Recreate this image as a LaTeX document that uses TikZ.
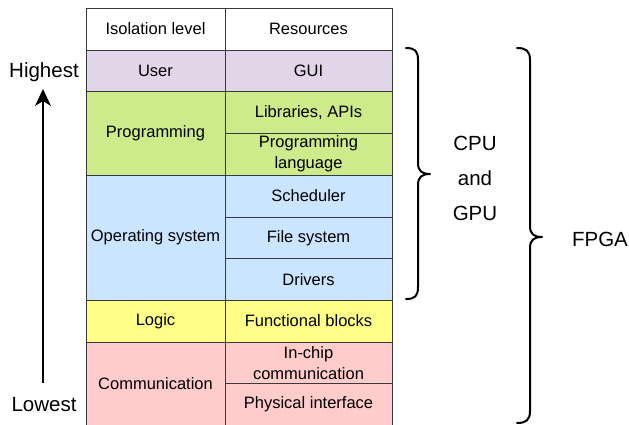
\documentclass[tikz,border=0pt]{standalone}
\usepackage{fontspec}
\setmainfont{Liberation Sans}
\usetikzlibrary{arrows.meta}
\definecolor{lnc}{HTML}{36393D}
\definecolor{cpurple}{HTML}{E1D5E7}
\definecolor{cgreen}{HTML}{CDEB8B}
\definecolor{cblue}{HTML}{CCE5FF}
\definecolor{cyellow}{HTML}{FFFF88}
\definecolor{cred}{HTML}{FFCCCC}
\begin{document}
\begin{tikzpicture}[x=1pt,y=-1pt,
  cell/.style={draw=lnc,line width=1pt,rectangle,inner sep=0pt,outer sep=0pt,align=center,
    font=\fontsize{16.5}{21}\selectfont},
  lcell/.style={cell,minimum width=139pt},
  rcell/.style={cell,minimum width=167pt},
  big/.style={font=\fontsize{20.5}{26}\selectfont,inner sep=0pt},
  brace/.style={draw=black,line width=2pt,line cap=round,line join=round}]
\useasboundingbox (0,0) rectangle (629,424);
% header
\node[lcell,fill=white,minimum height=42pt] (h1) at (155.5,29) {Isolation level};
\node[rcell,fill=white,minimum height=42pt] (h2) at (308.5,29) {Resources};
% user
\node[lcell,fill=cpurple,minimum height=41.5pt] (u1) at (155.5,70.75) {User};
\node[rcell,fill=cpurple,minimum height=41.5pt] (u2) at (308.5,70.75) {GUI};
% programming
\node[lcell,fill=cgreen,minimum height=83.5pt] (p1) at (155.5,133.25) {Programming};
\node[rcell,fill=cgreen,minimum height=41.5pt] (p2) at (308.5,112.25) {Libraries, APIs};
\node[rcell,fill=cgreen,minimum height=42pt] (p3) at (308.5,154) {Programming\\language};
% OS
\node[lcell,fill=cblue,minimum height=125pt] (o1) at (155.5,237.5) {Operating system};
\node[rcell,fill=cblue,minimum height=42pt] (o2) at (308.5,196) {Scheduler};
\node[rcell,fill=cblue,minimum height=41.5pt] (o3) at (308.5,237.75) {File system};
\node[rcell,fill=cblue,minimum height=41.5pt] (o4) at (308.5,279.25) {Drivers};
% logic
\node[lcell,fill=cyellow,minimum height=42pt] (l1) at (155.5,321) {Logic};
\node[rcell,fill=cyellow,minimum height=42pt] (l2) at (308.5,321) {Functional blocks};
% communication
\node[lcell,fill=cred,minimum height=83pt] (c1) at (155.5,383.5) {Communication};
\node[rcell,fill=cred,minimum height=41.5pt] (c2) at (308.5,362.75) {In-chip\\communication};
\node[rcell,fill=cred,minimum height=41.5pt] (c3) at (308.5,404.25) {Physical interface};
% left arrow and labels
\node[big] (hi) at (44,72) {Highest};
\node[big] (lo) at (44,405) {Lowest};
\coordinate (aS) at (43,383);
\coordinate (aE) at (43,89);
\draw[line width=2pt,-{Stealth[length=17pt,width=16pt,inset=5pt]}] (aS) -- (aE);
% brace 1
\draw[brace] (406,48) .. controls (415,48) and (418,51) .. (418,60) -- (418,163)
  .. controls (418,171) and (422,174) .. (430,174)
  .. controls (422,174) and (418,177) .. (418,185) -- (418,287)
  .. controls (418,296) and (415,299) .. (406,299);
\node[big,align=center,font=\fontsize{20.5}{35}\selectfont] (cpu) at (475,178) {CPU\\and\\GPU};
% brace 2
\draw[brace] (517,48) .. controls (526,48) and (530,51) .. (530,60) -- (530,226)
  .. controls (530,234) and (534,237) .. (542,237)
  .. controls (534,237) and (530,240) .. (530,248) -- (530,411)
  .. controls (530,420) and (526,423) .. (517,423);
\node[big] (fpga) at (600,239) {FPGA};
\end{tikzpicture}
\end{document}
